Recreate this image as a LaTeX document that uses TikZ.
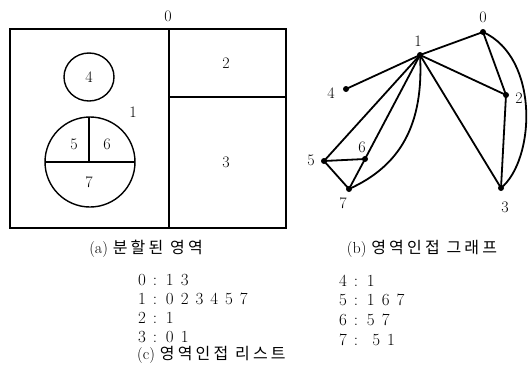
\documentclass[tikz,border=0pt]{standalone}
\usepackage{fontspec}
\newfontfamily\kr[LetterSpace=20]{Noto Sans CJK KR}
\newcommand\lstfont{\fontsize{17}{20}\selectfont\spaceskip=7pt\relax}
\begin{document}
\begin{tikzpicture}[x=1pt,y=-1pt,
  thickline/.style={line width=1.9pt},
  thinline/.style={line width=1.4pt},
  edge/.style={line width=1.8pt},
  vtx/.style={circle,fill=black,inner sep=0pt,minimum size=6pt},
  lbl/.style={font=\fontsize{16}{19}\selectfont,inner sep=0pt},
  captext/.style={font=\fontsize{16}{19}\selectfont,inner sep=0pt},
  lst/.style={font=\lstfont,inner sep=0pt,anchor=west}]
\useasboundingbox (0,0) rectangle (529,367);
% ---- (a) partitioned regions
\draw[thickline] (10,29) rectangle (286,228);
\draw[thickline] (169,29) -- (169,228);
\draw[thickline] (169,97) -- (286,97);
\draw[thinline] (89,77) ellipse (25pt and 24pt);
\draw[thinline] (90,162) circle (45pt);
\draw[thinline] (45,162) -- (135,162);
\draw[thinline] (89,117) -- (89,162);
\node[lbl] (a0) at (168,16) {0};
\node[lbl] (a1) at (133,112) {1};
\node[lbl] (a2) at (226,63) {2};
\node[lbl] (a3) at (226,162) {3};
\node[lbl] (a4) at (89,77) {4};
\node[lbl] (a5) at (74,144) {5};
\node[lbl] (a6) at (107,144) {6};
\node[lbl] (a7) at (89,182) {7};
% ---- (b) adjacency graph
\node[vtx] (n0) at (483,32) {};
\node[vtx] (n1) at (420,55) {};
\node[vtx] (n2) at (506,95) {};
\node[vtx] (n3) at (501,188) {};
\node[vtx] (n4) at (346,89) {};
\node[vtx] (n5) at (324,161) {};
\node[vtx] (n6) at (365,159) {};
\node[vtx] (n7) at (349,189) {};
\node[lbl] (l0) at (483,17) {0};
\node[lbl] (l1) at (418,41) {1};
\node[lbl] (l2) at (519,98) {2};
\node[lbl] (l3) at (505,207) {3};
\node[lbl] (l4) at (331,93) {4};
\node[lbl] (l5) at (311,160) {5};
\node[lbl] (l6) at (362,147) {6};
\node[lbl] (l7) at (343,203) {7};
\draw[edge] (n1.center) -- (n0.center);
\draw[edge] (n1.center) -- (n4.center);
\draw[edge] (n1.center) -- (n2.center);
\draw[edge] (n1.center) -- (n3.center);
\draw[edge] (n1.center) -- (n5.center);
\draw[edge] (n1.center) -- (n6.center);
\draw[edge] (n0.center) -- (n2.center);
\draw[edge] (n2.center) -- (n3.center);
\draw[edge] (n5.center) -- (n6.center);
\draw[edge] (n6.center) -- (n7.center);
\draw[edge] (n5.center) -- (n7.center);
\draw[edge] (n1.center) .. controls (424,125) and (400,166) .. (n7.center);
\draw[edge] (n0.center) .. controls (540,58) and (535,160) .. (n3.center);
% ---- captions
\node[captext] (capa) at (146,249) {(a)\ {\kr 분할된 영역}};
\node[captext] (capb) at (422,249) {(b)\ {\kr 영역인접 그래프}};
% ---- (c) adjacency list
\node[lst] (r0) at (138,280) {0 : 1 3};
\node[lst] (r1) at (138,299) {1 : 0 2 3 4 5 7};
\node[lst] (r2) at (138,318) {2 : 1};
\node[lst] (r3) at (138,337) {3 : 0 1};
\node[lst,font=\fontsize{16}{19}\selectfont] (capc) at (137,355) {(c)\ {\kr 영역인접 리스트}};
\node[lst] (r4) at (339,281) {4 : 1};
\node[lst] (r5) at (339,300) {5 : 1 6 7};
\node[lst] (r6) at (339,320) {6 : 5 7};
\node[lst] (r7) at (339,340) {7 :\ \ 5 1};
\end{tikzpicture}
\end{document}
